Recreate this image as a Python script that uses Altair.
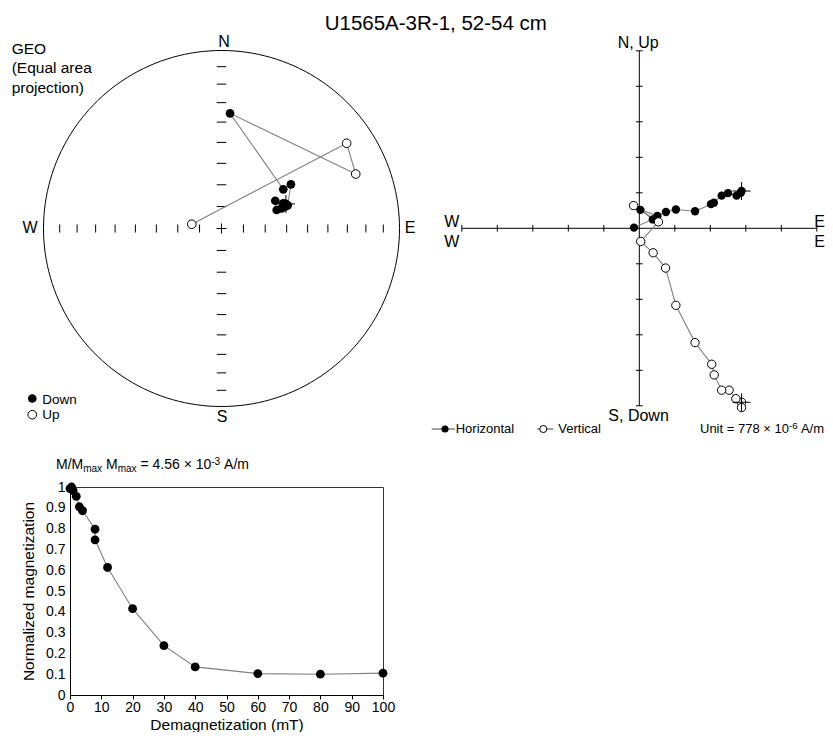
import altair as alt
import pandas as pd
import numpy as np

FONT = "Liberation Sans"

# ---------------- data ----------------
# Demagnetization curve (M/Mmax vs AF field, mT)
demag_field = [0, 0.5, 1, 2, 3, 4, 8, 8, 12, 20, 30, 40, 60, 80, 100]
demag_norm = [0.992, 1.0, 0.983, 0.955, 0.905, 0.886, 0.797, 0.746, 0.613, 0.415, 0.237, 0.135, 0.103, 0.100, 0.105]

# Zijderveld diagram (units of 778e-6 A/m), NRM first
hor_east = [2.88, 2.86, 2.74, 2.50, 2.32, 2.10, 2.02, 1.57, 1.03, 0.75, 0.51, 0.03, 0.38, -0.15]
hor_north = [1.05, 1.00, 0.92, 0.99, 0.92, 0.72, 0.68, 0.48, 0.53, 0.46, 0.35, 0.52, 0.25, 0.02]
ver_east = [2.88, 2.88, 2.72, 2.53, 2.32, 2.11, 2.04, 1.57, 1.03, 0.74, 0.39, 0.04, 0.54, -0.16]
ver_up = [-4.90, -5.05, -4.80, -4.56, -4.56, -4.13, -3.83, -3.22, -2.17, -1.12, -0.69, -0.37, 0.18, 0.64]
zij_ticks = [-5, -4, -3, -2, -1, 1, 2, 3, 4, 5]

# Equal-area stereonet: projected positions (unit circle), NRM first
geo_east = [0.362, 0.358, 0.347, 0.338, 0.310, 0.302, 0.372, 0.390, 0.347, 0.048, 0.754, 0.703, -0.167]
geo_north = [0.138, 0.122, 0.142, 0.113, 0.104, 0.156, 0.130, 0.248, 0.220, 0.647, 0.306, 0.479, 0.024]
geo_hemi = ["Down", "Down", "Down", "Down", "Down", "Down", "Down", "Down", "Down", "Down", "Up", "Up", "Up"]
net_tick_inc = [10, 20, 30, 40, 50, 60, 70, 80]

# ---------------- layout (scale ranges, px relative to plot origin) ----------------
ST_X = alt.Scale(domain=[-1, 1], range=[-26.5, 329.5], nice=False, zero=False)
ST_Y = alt.Scale(domain=[-1, 1], range=[-80.5, -436.5], nice=False, zero=False)
ZJ_X = alt.Scale(domain=[-5, 5], range=[391.8, 746.8], nice=False, zero=False)
ZJ_Y = alt.Scale(domain=[-5, 5], range=[-81.2, -436.2], nice=False, zero=False)
DM_X = alt.Scale(domain=[0, 100], nice=False, zero=False)
DM_Y = alt.Scale(domain=[0, 1], nice=False, zero=False)

GREY = "#808080"
PLUS = "M-1,0L1,0M0,-1L0,1"
VBAR = "M0,-1L0,1"
HBAR = "M-1,0L1,0"


def enc(sx, sy, fx="x", fy="y"):
    return dict(x=alt.X(fx, type="quantitative", scale=sx, axis=None),
                y=alt.Y(fy, type="quantitative", scale=sy, axis=None))


def texts(rows, sx, sy, size, align="left"):
    df = pd.DataFrame(rows, columns=["t", "x", "y"])
    return alt.Chart(df).mark_text(fontSize=size, align=align, baseline="alphabetic",
                                   font=FONT, color="black").encode(text="t:N", **enc(sx, sy))


layers = []

# ================= Stereonet =================
az = np.deg2rad(np.arange(0, 362, 2))
circle = pd.DataFrame({"x": np.sin(az), "y": np.cos(az), "i": np.arange(len(az))})
layers.append(alt.Chart(circle).mark_line(color="black", strokeWidth=1)
              .encode(order="i:Q", **enc(ST_X, ST_Y)))

r = [np.sqrt(2) * np.sin(np.deg2rad((90 - inc) / 2)) for inc in net_tick_inc]
ew = pd.DataFrame({"x": r + [-v for v in r], "y": 0.0})
ns = pd.DataFrame({"x": 0.0, "y": r + [-v for v in r]})
layers.append(alt.Chart(ew).mark_point(shape=VBAR, size=64, filled=False, color="black",
                                       strokeWidth=1, opacity=1).encode(**enc(ST_X, ST_Y)))
layers.append(alt.Chart(ns).mark_point(shape=HBAR, size=90, filled=False, color="black",
                                       strokeWidth=1, opacity=1).encode(**enc(ST_X, ST_Y)))
layers.append(alt.Chart(pd.DataFrame({"x": [0.0], "y": [0.0]})).mark_point(
    shape=PLUS, size=100, filled=False, color="black", strokeWidth=1, opacity=1).encode(**enc(ST_X, ST_Y)))

geo = pd.DataFrame({"x": geo_east, "y": geo_north, "h": geo_hemi, "i": range(len(geo_east))})
layers.append(alt.Chart(geo).mark_line(color=GREY, strokeWidth=1.1)
              .encode(order="i:Q", **enc(ST_X, ST_Y)))
layers.append(alt.Chart(geo).transform_filter("datum.h == 'Down'").mark_point(
    shape="circle", filled=True, color="black", size=75, opacity=1).encode(**enc(ST_X, ST_Y)))
layers.append(alt.Chart(geo).transform_filter("datum.h == 'Up'").mark_point(
    shape="circle", filled=True, fill="white", stroke="black", strokeWidth=1, size=75, opacity=1)
    .encode(**enc(ST_X, ST_Y)))
layers.append(alt.Chart(geo.head(1)).mark_point(
    shape=PLUS, size=324, filled=False, color="black", strokeWidth=1, opacity=1).encode(**enc(ST_X, ST_Y)))

layers.append(texts([["N", 0.014, 1.021], ["S", 0.003, -1.087],
                     ["W", -1.076, -0.027], ["E", 1.059, -0.027]], ST_X, ST_Y, 16, "center"))
layers.append(texts([["GEO", -1.179, 0.979], ["(Equal area", -1.179, 0.871],
                     ["projection)", -1.179, 0.764]], ST_X, ST_Y, 15.5))
layers.append(texts([["Down", -1.007, -0.986], ["Up", -1.007, -1.073]], ST_X, ST_Y, 13.5))
layers.append(alt.Chart(pd.DataFrame({"x": [-1.063], "y": [-0.955]})).mark_point(
    shape="circle", filled=True, color="black", size=75, opacity=1).encode(**enc(ST_X, ST_Y)))
layers.append(alt.Chart(pd.DataFrame({"x": [-1.063], "y": [-1.046]})).mark_point(
    shape="circle", filled=True, fill="white", stroke="black", strokeWidth=1, size=75, opacity=1)
    .encode(**enc(ST_X, ST_Y)))

# ================= Zijderveld =================
ax = pd.DataFrame({"x": [-5, 0], "x2": [5, 0], "y": [0, -5], "y2": [0, 5]})
layers.append(alt.Chart(ax).mark_rule(color="black", strokeWidth=1).encode(
    x2="x2:Q", y2="y2:Q", **enc(ZJ_X, ZJ_Y)))
layers.append(alt.Chart(pd.DataFrame({"x": zij_ticks, "y": 0})).mark_point(
    shape=VBAR, size=44, filled=False, color="black", strokeWidth=1, opacity=1).encode(**enc(ZJ_X, ZJ_Y)))
layers.append(alt.Chart(pd.DataFrame({"x": 0, "y": zij_ticks})).mark_point(
    shape=HBAR, size=44, filled=False, color="black", strokeWidth=1, opacity=1).encode(**enc(ZJ_X, ZJ_Y)))

hz = pd.DataFrame({"x": hor_east, "y": hor_north, "i": range(len(hor_east))})
vt = pd.DataFrame({"x": ver_east, "y": ver_up, "i": range(len(ver_east))})
for d in (hz, vt):
    layers.append(alt.Chart(d).mark_line(color=GREY, strokeWidth=1.1).encode(order="i:Q", **enc(ZJ_X, ZJ_Y)))
layers.append(alt.Chart(hz).mark_point(shape="circle", filled=True, color="black", size=70, opacity=1)
              .encode(**enc(ZJ_X, ZJ_Y)))
layers.append(alt.Chart(vt).mark_point(shape="circle", filled=True, fill="white", stroke="black",
                                       strokeWidth=1, size=70, opacity=1).encode(**enc(ZJ_X, ZJ_Y)))
nrm = pd.concat([hz.head(1), vt.head(1)])
layers.append(alt.Chart(nrm).mark_point(shape=PLUS, size=324, filled=False, color="black",
                                        strokeWidth=1, opacity=1).encode(**enc(ZJ_X, ZJ_Y)))

layers.append(texts([["N, Up", -0.03, 5.07], ["S, Down", -0.02, -5.43],
                     ["W", -5.285, 0.045], ["W", -5.285, -0.518],
                     ["E", 5.076, 0.045], ["E", 5.076, -0.518]], ZJ_X, ZJ_Y, 16, "center"))
# legend
leg = pd.DataFrame({"x": [-5.848, -2.873], "x2": [-5.192, -2.423], "y": [-5.654, -5.654]})
layers.append(alt.Chart(leg).mark_rule(color="#444", strokeWidth=1).encode(x2="x2:Q", **enc(ZJ_X, ZJ_Y)))
layers.append(alt.Chart(pd.DataFrame({"x": [-5.473], "y": [-5.654]})).mark_point(
    shape="circle", filled=True, color="black", size=50, opacity=1).encode(**enc(ZJ_X, ZJ_Y)))
layers.append(alt.Chart(pd.DataFrame({"x": [-2.704], "y": [-5.654]})).mark_point(
    shape="circle", filled=True, fill="white", stroke="black", strokeWidth=1, size=50, opacity=1)
    .encode(**enc(ZJ_X, ZJ_Y)))
layers.append(texts([["Horizontal", -5.172, -5.78], ["Vertical", -2.28, -5.78],
                     ["Unit = 778 \u00d7 10", 1.71, -5.78], ["A/m", 4.552, -5.78]], ZJ_X, ZJ_Y, 13))
layers.append(texts([["-6", 4.217, -5.64]], ZJ_X, ZJ_Y, 9.5))

# ================= Demagnetization curve =================
dm = pd.DataFrame({"x": demag_field, "y": demag_norm, "i": range(len(demag_field))})
layers.append(alt.Chart(dm).mark_line(color=GREY, strokeWidth=1.1).encode(
    x=alt.X("x:Q", scale=DM_X, title="Demagnetization (mT)",
            axis=alt.Axis(values=[0, 10, 20, 30, 40, 50, 60, 70, 80, 90, 100], tickSize=4,
                          labelFontSize=14, titleFontSize=15.5, labelPadding=1,
                          titleY=34, titleBaseline="alphabetic",
                          labelFlush=False, grid=False)),
    y=alt.Y("y:Q", scale=DM_Y, title="Normalized magnetization",
            axis=alt.Axis(values=[0, 0.1, 0.2, 0.3, 0.4, 0.5, 0.6, 0.7, 0.8, 0.9, 1.0], format=".1~f",
                          tickSize=0, labelPadding=5, labelFontSize=14, titleFontSize=15.5,
                          titlePadding=9, labelFlush=False, grid=False)),
    order="i:Q"))
layers.append(alt.Chart(dm).mark_point(shape="circle", filled=True, color="black", size=78, opacity=1)
              .encode(**enc(DM_X, DM_Y)))
# header "M/Mmax Mmax = 4.56 x 10^-3 A/m"
layers.append(texts([["M/M", -4.47, 1.0865], ["M", 11.50, 1.0865],
                     ["= 4.56 \u00d7 10", 22.52, 1.0865], ["A/m", 49.23, 1.0865]], DM_X, DM_Y, 14))
layers.append(texts([["max", 4.22, 1.072], ["max", 15.24, 1.072]], DM_X, DM_Y, 10))
layers.append(texts([["-3", 45.14, 1.108]], DM_X, DM_Y, 10))

# ================= Title =================
layers.append(alt.Chart(pd.DataFrame({"t": ["U1565A-3R-1, 52-54 cm"]})).mark_text(
    fontSize=20.5, font=FONT, align="center", baseline="alphabetic", color="black").encode(
    text="t:N", x=alt.value(365.8), y=alt.value(-457)))

chart = (alt.layer(*layers)
         .resolve_scale(x="independent", y="independent")
         .properties(width=313, height=208, autosize="none",
                     padding={"left": 62, "top": 479, "right": 442, "bottom": 37})
         .configure(font=FONT)
         .configure_view(stroke="#333", strokeWidth=1)
         .configure_axis(labelFont=FONT, titleFont=FONT, labelColor="black", titleColor="black",
                         domainColor="black", tickColor="black", titleFontWeight="normal"))

chart.save("out.html", embed_options={"renderer": "svg", "actions": False})
